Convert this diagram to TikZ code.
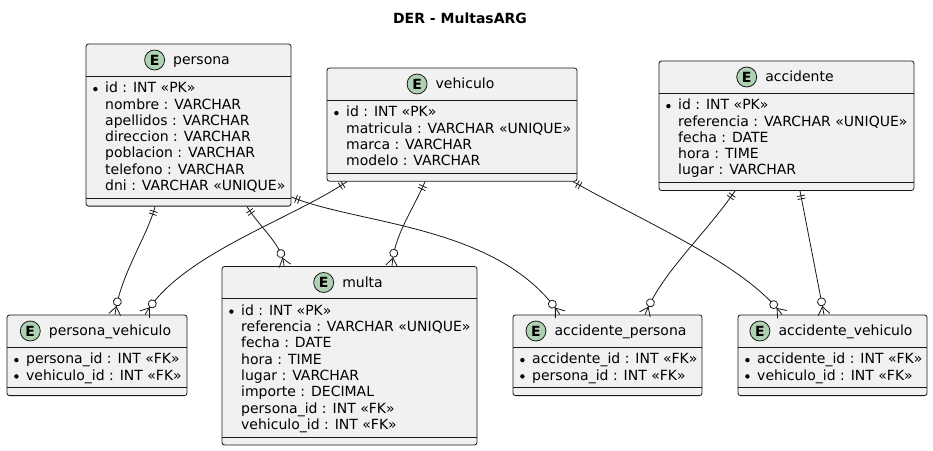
\documentclass[tikz,border=0pt]{standalone}
\usepackage{fontspec}
\setmainfont{DejaVu Sans}
\usetikzlibrary{positioning,fit,decorations.markings}
\definecolor{linec}{HTML}{181818}
\definecolor{boxfill}{HTML}{F1F1F1}
\definecolor{efill}{HTML}{ADD1B2}
\newcommand\bul{\makebox[0pt][r]{\raisebox{1.4pt}{\tikz\fill[black] (0pt,0pt) circle (2.2pt);}\hspace{7.6pt}}}
% #1 name, #2 left, #3 top, #4 right, #5 rows, #6 title, #7 attributes
\newcommand\entity[7]{%
  \pgfmathsetmacro\eSa{#3+32}%
  \pgfmathsetmacro\eSb{#3+40+16.3*#5}%
  \pgfmathsetmacro\eB{#3+48+16.3*#5}%
  \pgfmathsetmacro\eCx{(#2+#4)/2+13}%
  \pgfmathsetmacro\eHy{#3+16}%
  \node[ebox, fit={(#2,#3) (#4,\eB)}] (#1) {};
  \draw[sepline] (#2,\eSa) -- (#4,\eSa) (#2,\eSb) -- (#4,\eSb);
  \node[etitle] (#1-t) at (\eCx,\eHy) {#6};
  \node[ecirc, left=8pt of #1-t] (#1-e) {E};
  \foreach \a [count=\i from 0] in {#7} {
    \node[eattr] (#1-a\i) at (#2+19, \eSa+16.7+16.3*\i) {\a};
  }%
}
\begin{document}
\begin{tikzpicture}[x=1pt,y=-1pt,
  ebox/.style={rectangle, draw=linec, fill=boxfill, line width=0.8pt, rounded corners=2.5pt, inner sep=0pt},
  sepline/.style={draw=linec, line width=0.8pt},
  etitle/.style={inner sep=0pt, font=\fontsize{14}{16}\selectfont, text height=10pt, text depth=1pt},
  ecirc/.style={circle, draw=linec, fill=efill, line width=0.8pt, minimum size=20pt, inner sep=0pt, font=\fontsize{14}{16}\selectfont\bfseries},
  eattr/.style={anchor=base west, inner sep=0pt, font=\fontsize{14}{16}\selectfont},
  headtext/.style={inner sep=0pt, font=\fontsize{14}{16}\selectfont\bfseries},
  rel/.style={draw=linec, line width=0.8pt,
    postaction={decorate, decoration={markings,
      mark=at position 5pt with {\draw[draw=linec, line width=0.8pt] (0pt,-4pt) -- (0pt,4pt);},
      mark=at position 8pt with {\draw[draw=linec, line width=0.8pt] (0pt,-4pt) -- (0pt,4pt);},
      mark=at position -8pt with {\draw[draw=linec, line width=0.8pt] (0pt,0pt) -- (8pt,6pt) (0pt,0pt) -- (8pt,-6pt);},
      mark=at position -13pt with {\draw[draw=linec, fill=white, line width=0.8pt] (0pt,0pt) circle (4pt);}
    }}}
]
\useasboundingbox[fill=white] (0,0) rectangle (933,450);

\node[headtext] (title) at (460,18) {DER - MultasARG};

\entity{pers}{86}{44}{291}{7}{persona}{\bul id : INT «PK», nombre : VARCHAR, apellidos : VARCHAR, direccion : VARCHAR, poblacion : VARCHAR, telefono : VARCHAR, dni : VARCHAR «UNIQUE»}
\entity{veh}{327}{68}{577}{4}{vehiculo}{\bul id : INT «PK», matricula : VARCHAR «UNIQUE», marca : VARCHAR, modelo : VARCHAR}
\entity{acc}{659}{61}{914}{5}{accidente}{\bul id : INT «PK», referencia : VARCHAR «UNIQUE», fecha : DATE, hora : TIME, lugar : VARCHAR}
\entity{multa}{222}{266.5}{477}{8}{multa}{\bul id : INT «PK», referencia : VARCHAR «UNIQUE», fecha : DATE, hora : TIME, lugar : VARCHAR, importe : DECIMAL, persona\_id : INT «FK», vehiculo\_id : INT «FK»}
\entity{pv}{7}{315}{187}{2}{persona\_vehiculo}{\bul persona\_id : INT «FK», \bul vehiculo\_id : INT «FK»}
\entity{ap}{513}{315}{702}{2}{accidente\_persona}{\bul accidente\_id : INT «FK», \bul persona\_id : INT «FK»}
\entity{av}{738}{315}{927}{2}{accidente\_vehiculo}{\bul accidente\_id : INT «FK», \bul vehiculo\_id : INT «FK»}

\draw[rel] (pers.south -| 155,0) .. controls (148,235) and (120,275) .. (pv.north -| 115,0);
\draw[rel] (veh.south -| 347,0) .. controls (290,220) and (180,255) .. (pv.north -| 145,0);
\draw[rel] (pers.south -| 247,0) .. controls (260,228) and (283,245) .. (multa.north -| 284,0);
\draw[rel] (pers.east |- 0,197) .. controls (360,225) and (500,225) .. (ap.north -| 560,0);
\draw[rel] (veh.south -| 425,0) .. controls (412,212) and (394,235) .. (multa.north -| 392,0);
\draw[rel] (veh.south -| 573,0) .. controls (650,225) and (745,265) .. (av.north -| 782,0);
\draw[rel] (acc.south -| 735,0) .. controls (705,235) and (662,272) .. (ap.north -| 645,0);
\draw[rel] (acc.south -| 800,0) -- (av.north -| 824,0);
\end{tikzpicture}
\end{document}
